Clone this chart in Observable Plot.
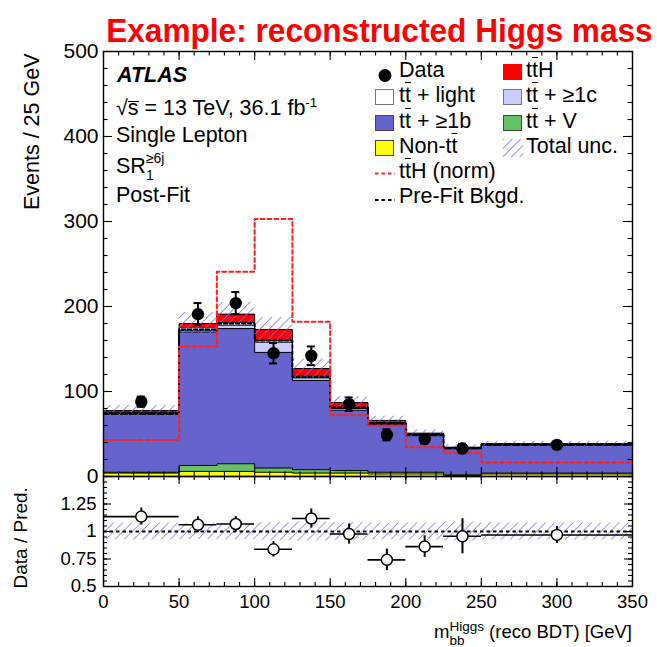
<!DOCTYPE html>
<html>
<head>
<meta charset="utf-8">
<script src="https://cdn.jsdelivr.net/npm/d3@7"></script>
<script src="https://cdn.jsdelivr.net/npm/@observablehq/plot@0.6"></script>
<style>
  html, body { margin: 0; padding: 0; background: #fff; }
  #wrap { position: relative; width: 657px; height: 647px; overflow: hidden;
          font-family: "Liberation Sans", Arial, Helvetica, sans-serif; color: #000; }
  #wrap > svg { position: absolute; left: 0; }
  .lbl { position: absolute; white-space: nowrap; line-height: 1; font-size: 21.5px; }
  .ov { text-decoration: overline; text-decoration-thickness: 1.4px; }
  .rad { display: inline-block; border-top: 1.4px solid #000; line-height: 0.58em; }
  .title { font-weight: bold; color: #ff0000; font-size: 34px; right: 4px; top: 13px;
           transform-origin: right center; transform: scaleX(0.93); }
  .sw { position: absolute; width: 19px; height: 16px; box-sizing: border-box; border: 1.5px solid #444; }
  .stk { display: inline-block; vertical-align: -7px; font-size: 13.5px; line-height: 14px; }
  .stk span { display: block; }
</style>
</head>
<body>
<div id="wrap">
  <div class="lbl title">Example: reconstructed Higgs mass</div>

  <!-- labels in the upper-left corner of the main panel -->
  <div class="lbl" style="left:117px;top:65px;font-weight:bold;font-style:italic;">ATLAS</div>
  <div class="lbl" style="left:116px;top:96px;">√<span class="rad">s</span> = 13 TeV, 36.1 fb<sup style="font-size:0.62em">-1</sup></div>
  <div class="lbl" style="left:116px;top:125px;">Single Lepton</div>
  <div class="lbl" style="left:116px;top:150px;">SR<span class="stk" style="font-size:14px;line-height:17px;vertical-align:-7px;"><span>≥6j</span><span>1</span></span></div>
  <div class="lbl" style="left:116px;top:185px;">Post-Fit</div>

  <!-- legend -->
  <svg style="position:absolute;left:370px;top:60px;overflow:visible" width="30" height="160">
    <defs>
      <pattern id="hatch-leg" patternUnits="userSpaceOnUse" width="6" height="6" patternTransform="rotate(45)">
        <line x1="0" y1="0" x2="0" y2="6" stroke="#7070ee" stroke-width="1.6"/>
      </pattern>
    </defs>
    <circle cx="15" cy="15.5" r="6.5" fill="#000"/>
    <line x1="5" x2="25" y1="113.5" y2="113.5" stroke="#ff2020" stroke-width="2" stroke-dasharray="3.5,3"/>
    <line x1="5" x2="25" y1="140" y2="140" stroke="#000" stroke-width="2" stroke-dasharray="3.5,3"/>
    <rect x="133" y="79" width="20" height="18" fill="url(#hatch-leg)"/>
  </svg>
  <div class="sw" style="left:375px;top:89px;background:#fff;border-color:#777"></div>
  <div class="sw" style="left:375px;top:115px;background:#6464cc"></div>
  <div class="sw" style="left:375px;top:140px;background:#ffff00"></div>
  <div class="sw" style="left:503px;top:64px;background:#ff0000;border-color:#ff0000"></div>
  <div class="sw" style="left:503px;top:89px;background:#ccccff;border-color:#777"></div>
  <div class="sw" style="left:503px;top:115px;background:#66c266"></div>

  <div class="lbl" style="left:399px;top:60px;">Data</div>
  <div class="lbl" style="left:399px;top:85px;">t<span class="ov">t</span> + light</div>
  <div class="lbl" style="left:399px;top:111px;">t<span class="ov">t</span> + ≥1b</div>
  <div class="lbl" style="left:399px;top:136px;">Non-t<span class="ov">t</span></div>
  <div class="lbl" style="left:399px;top:161px;">t<span class="ov">t</span>H (norm)</div>
  <div class="lbl" style="left:399px;top:186px;">Pre-Fit Bkgd.</div>
  <div class="lbl" style="left:526px;top:60px;">t<span class="ov">t</span>H</div>
  <div class="lbl" style="left:526px;top:85px;">t<span class="ov">t</span> + ≥1c</div>
  <div class="lbl" style="left:526px;top:111px;">t<span class="ov">t</span> + V</div>
  <div class="lbl" style="left:526px;top:136px;">Total unc.</div>

  <!-- x-axis title under the ratio panel -->
  <div class="lbl" style="right:25px;top:620px;font-size:18.5px;">m<span class="stk"><span>Higgs</span><span>bb</span></span> (reco BDT) [GeV]</div>
</div>

<script>
// Bin edges and centres of the reconstructed Higgs mass, GeV
const binLo  = [0, 50, 75, 100, 125, 150, 175, 200, 225, 250];
const binHi  = [50, 75, 100, 125, 150, 175, 200, 225, 250, 350];
const binMid = [25, 62.5, 87.5, 112.5, 137.5, 162.5, 187.5, 212.5, 237.5, 300];

// Post-fit prediction, events / 25 GeV, stacked from the bottom up
const nonTtbar   = [4, 6, 6, 5, 4, 4, 3, 3, 1, 3];
const ttbarV     = [1, 7, 9, 5, 4, 3, 2, 2, 1, 1];
const ttbarB     = [68, 157, 159, 136, 105, 71, 56, 43, 30.5, 32.5];
const ttbarC     = [1.5, 2, 4, 12, 3, 2, 1.5, 1, 0.7, 0.7];
const ttbarLight = [1, 3, 3, 2, 2, 1.5, 1, 0.5, 0.5, 0.6];
const ttH        = [2, 5, 10, 13, 9, 5.5, 2.5, 1.5, 0.8, 0.6];
const totalUnc   = [6, 13, 14, 14, 11, 7, 5, 4, 3, 3];

// Overlays
const preFitBkg  = [74.5, 173, 180, 160, 117, 81, 63, 49.5, 33.7, 37.8];
const ttHNorm    = [43, 153, 241, 303, 182, 72, 60, 34.5, 28, 16.6];

// Observed data with statistical errors
const dataVal    = [88, 191, 204, 145, 142, 85, 49, 44, 33, 37.2];
const dataErr    = [6, 13, 13, 12, 11, 8, 6.5, 5, 5.5, 3];

// Axis ticks
const xTicks      = [0, 50, 100, 150, 200, 250, 300, 350];
const yTicksMain  = [0, 100, 200, 300, 400, 500];
const yTicksRatio = [0.5, 0.75, 1, 1.25];

const FONT = "Liberation Sans, Arial, Helvetica, sans-serif";
const W = 657;
const ML = 103, MR = 25;
const xDom = [0, 350];

const components = [
  {values: nonTtbar,   fill: "#ffff00"},
  {values: ttbarV,     fill: "#66c266"},
  {values: ttbarB,     fill: "#6464cc"},
  {values: ttbarC,     fill: "#ccccff"},
  {values: ttbarLight, fill: "#ffffff"},
  {values: ttH,        fill: "#ff0000"}
];

// cumulative stack layers
let base = binLo.map(() => 0);
const layers = components.map(c => {
  const rows = c.values.map((v, i) => ({x1: binLo[i], x2: binHi[i], y1: base[i], y2: base[i] + v}));
  base = rows.map(r => r.y2);
  return {fill: c.fill, rows, top: base.slice()};
});
const total = base;

const steps = vals => vals.flatMap((v, i) => [{x: binLo[i], y: v}, {x: binHi[i], y: v}]);

const bins = binLo.map((lo, i) => ({
  lo, hi: binHi[i], mid: binMid[i],
  total: total[i], unc: totalUnc[i],
  v: dataVal[i], e: dataErr[i],
  r: dataVal[i] / total[i], re: dataErr[i] / total[i], ru: totalUnc[i] / total[i]
}));

// inward ticks on all four sides of a panel
function insideTicks(xs, ys, yDom, w, h, len) {
  const lx = len * (xDom[1] - xDom[0]) / w;
  const ly = len * (yDom[1] - yDom[0]) / h;
  const o = {stroke: "#000", strokeWidth: 1.1};
  return [
    Plot.ruleX(xs, {x: d => d, y1: () => yDom[0], y2: () => yDom[0] + ly, ...o}),
    Plot.ruleX(xs, {x: d => d, y1: () => yDom[1] - ly, y2: () => yDom[1], ...o}),
    Plot.ruleY(ys, {y: d => d, x1: () => xDom[0], x2: () => xDom[0] + lx, ...o}),
    Plot.ruleY(ys, {y: d => d, x1: () => xDom[1] - lx, x2: () => xDom[1], ...o})
  ];
}

const xMinor = d3.range(0, 351, 10);
const yMinorMain = d3.range(0, 501, 20);
const yMinorRatio = d3.range(0.5, 1.501, 0.05);
const yMajorRatio = [0.5, 0.75, 1, 1.25, 1.5];

// ---------- main panel ----------
const mainH = 478, mainTop = 51, mainBottom = 2;
const mainYDom = [0, 500];
const pxW = W - ML - MR, pxHMain = mainH - mainTop - mainBottom;
const capHalf = 4 * 350 / pxW;

const main = Plot.plot({
  width: W, height: mainH,
  marginLeft: ML, marginRight: MR, marginTop: mainTop, marginBottom: mainBottom,
  style: {fontFamily: FONT, background: "none", overflow: "visible", color: "#000"},
  x: {domain: xDom, axis: null},
  y: {domain: mainYDom},
  marks: [
    ...layers.map(l => Plot.rect(l.rows, {x1: "x1", x2: "x2", y1: "y1", y2: "y2", fill: l.fill, shapeRendering: "crispEdges"})),
    ...layers.map(l => Plot.line(steps(l.top), {x: "x", y: "y", stroke: "#000", strokeWidth: 1})),
    Plot.rect(bins, {x1: "lo", x2: "hi", y1: d => d.total - d.unc, y2: d => d.total + d.unc, fill: "url(#hatch-main)"}),
    Plot.line(steps(preFitBkg), {x: "x", y: "y", stroke: "#000", strokeWidth: 1.8, strokeDasharray: "3.5,2.5"}),
    Plot.line(steps(ttHNorm), {x: "x", y: "y", stroke: "#ff2020", strokeWidth: 2, strokeDasharray: "4,3"}),
    Plot.ruleX(bins, {x: "mid", y1: d => d.v - d.e, y2: d => d.v + d.e, stroke: "#000", strokeWidth: 2}),
    Plot.ruleY(bins, {y: d => d.v + d.e, x1: d => d.mid - capHalf, x2: d => d.mid + capHalf, stroke: "#000", strokeWidth: 2}),
    Plot.ruleY(bins, {y: d => d.v - d.e, x1: d => d.mid - capHalf, x2: d => d.mid + capHalf, stroke: "#000", strokeWidth: 2}),
    Plot.dot(bins, {x: "mid", y: "v", r: 6.2, fill: "#000"}),
    ...insideTicks(xMinor, yMinorMain, mainYDom, pxW, pxHMain, 4.5),
    ...insideTicks(xTicks, yTicksMain, mainYDom, pxW, pxHMain, 9),
    Plot.frame({stroke: "#000", strokeWidth: 1.4}),
    Plot.axisY(yTicksMain, {tickSize: 0, tickPadding: 5, fontSize: 21, label: null}),
    Plot.text(["Events / 25 GeV"], {text: d => d, frameAnchor: "top-left", rotate: -90, textAnchor: "end",
      dx: -80, dy: 2, fontSize: 21.5})
  ]
});

// ---------- ratio panel ----------
const ratioH = 177, ratioTop = 6, ratioBottom = 61;
const ratioYDom = [0.5, 1.5];
const pxHRatio = ratioH - ratioTop - ratioBottom;

const ratio = Plot.plot({
  width: W, height: ratioH,
  marginLeft: ML, marginRight: MR, marginTop: ratioTop, marginBottom: ratioBottom,
  style: {fontFamily: FONT, background: "none", overflow: "visible", color: "#000"},
  x: {domain: xDom},
  y: {domain: ratioYDom},
  marks: [
    Plot.rect(bins, {x1: "lo", x2: "hi", y1: d => 1 - d.ru, y2: d => 1 + d.ru, fill: "url(#hatch-ratio)"}),
    Plot.ruleY([1], {stroke: "#000", strokeWidth: 1.8, strokeDasharray: "3.5,3"}),
    Plot.ruleY(bins, {y: "r", x1: "lo", x2: "hi", stroke: "#000", strokeWidth: 1.6}),
    Plot.ruleX(bins, {x: "mid", y1: d => d.r - d.re, y2: d => d.r + d.re, stroke: "#000", strokeWidth: 2}),
    Plot.dot(bins, {x: "mid", y: "r", r: 5.5, fill: "#fff", stroke: "#000", strokeWidth: 1.5}),
    ...insideTicks(xMinor, yMinorRatio, ratioYDom, pxW, pxHRatio, 4),
    ...insideTicks(xTicks, yMajorRatio, ratioYDom, pxW, pxHRatio, 8),
    Plot.frame({stroke: "#000", strokeWidth: 1.4}),
    Plot.axisY(yTicksRatio, {tickSize: 0, tickPadding: 7, fontSize: 18.5, label: null, tickFormat: d => String(d)}),
    Plot.axisX(xTicks, {tickSize: 0, tickPadding: 8, fontSize: 18.5, label: null}),
    Plot.text(["Data / Pred."], {text: d => d, frameAnchor: "bottom-left", rotate: -90, textAnchor: "start",
      dx: -77, dy: 2, fontSize: 19})
  ]
});

function addHatch(svg, id, color) {
  d3.select(svg).insert("defs", ":first-child").html(
    `<pattern id="${id}" patternUnits="userSpaceOnUse" width="6.5" height="6.5" patternTransform="rotate(45)">` +
    `<line x1="0" y1="0" x2="0" y2="6.5" stroke="${color}" stroke-width="1.5"/></pattern>`);
}
addHatch(main, "hatch-main", "#6f6ff0");
addHatch(ratio, "hatch-ratio", "#7a7af0");

const wrap = document.getElementById("wrap");
main.style.top = "0px";
ratio.style.top = (476 - ratioTop) + "px";
wrap.insertBefore(ratio, wrap.firstChild);
wrap.insertBefore(main, wrap.firstChild);
</script>
</body>
</html>
